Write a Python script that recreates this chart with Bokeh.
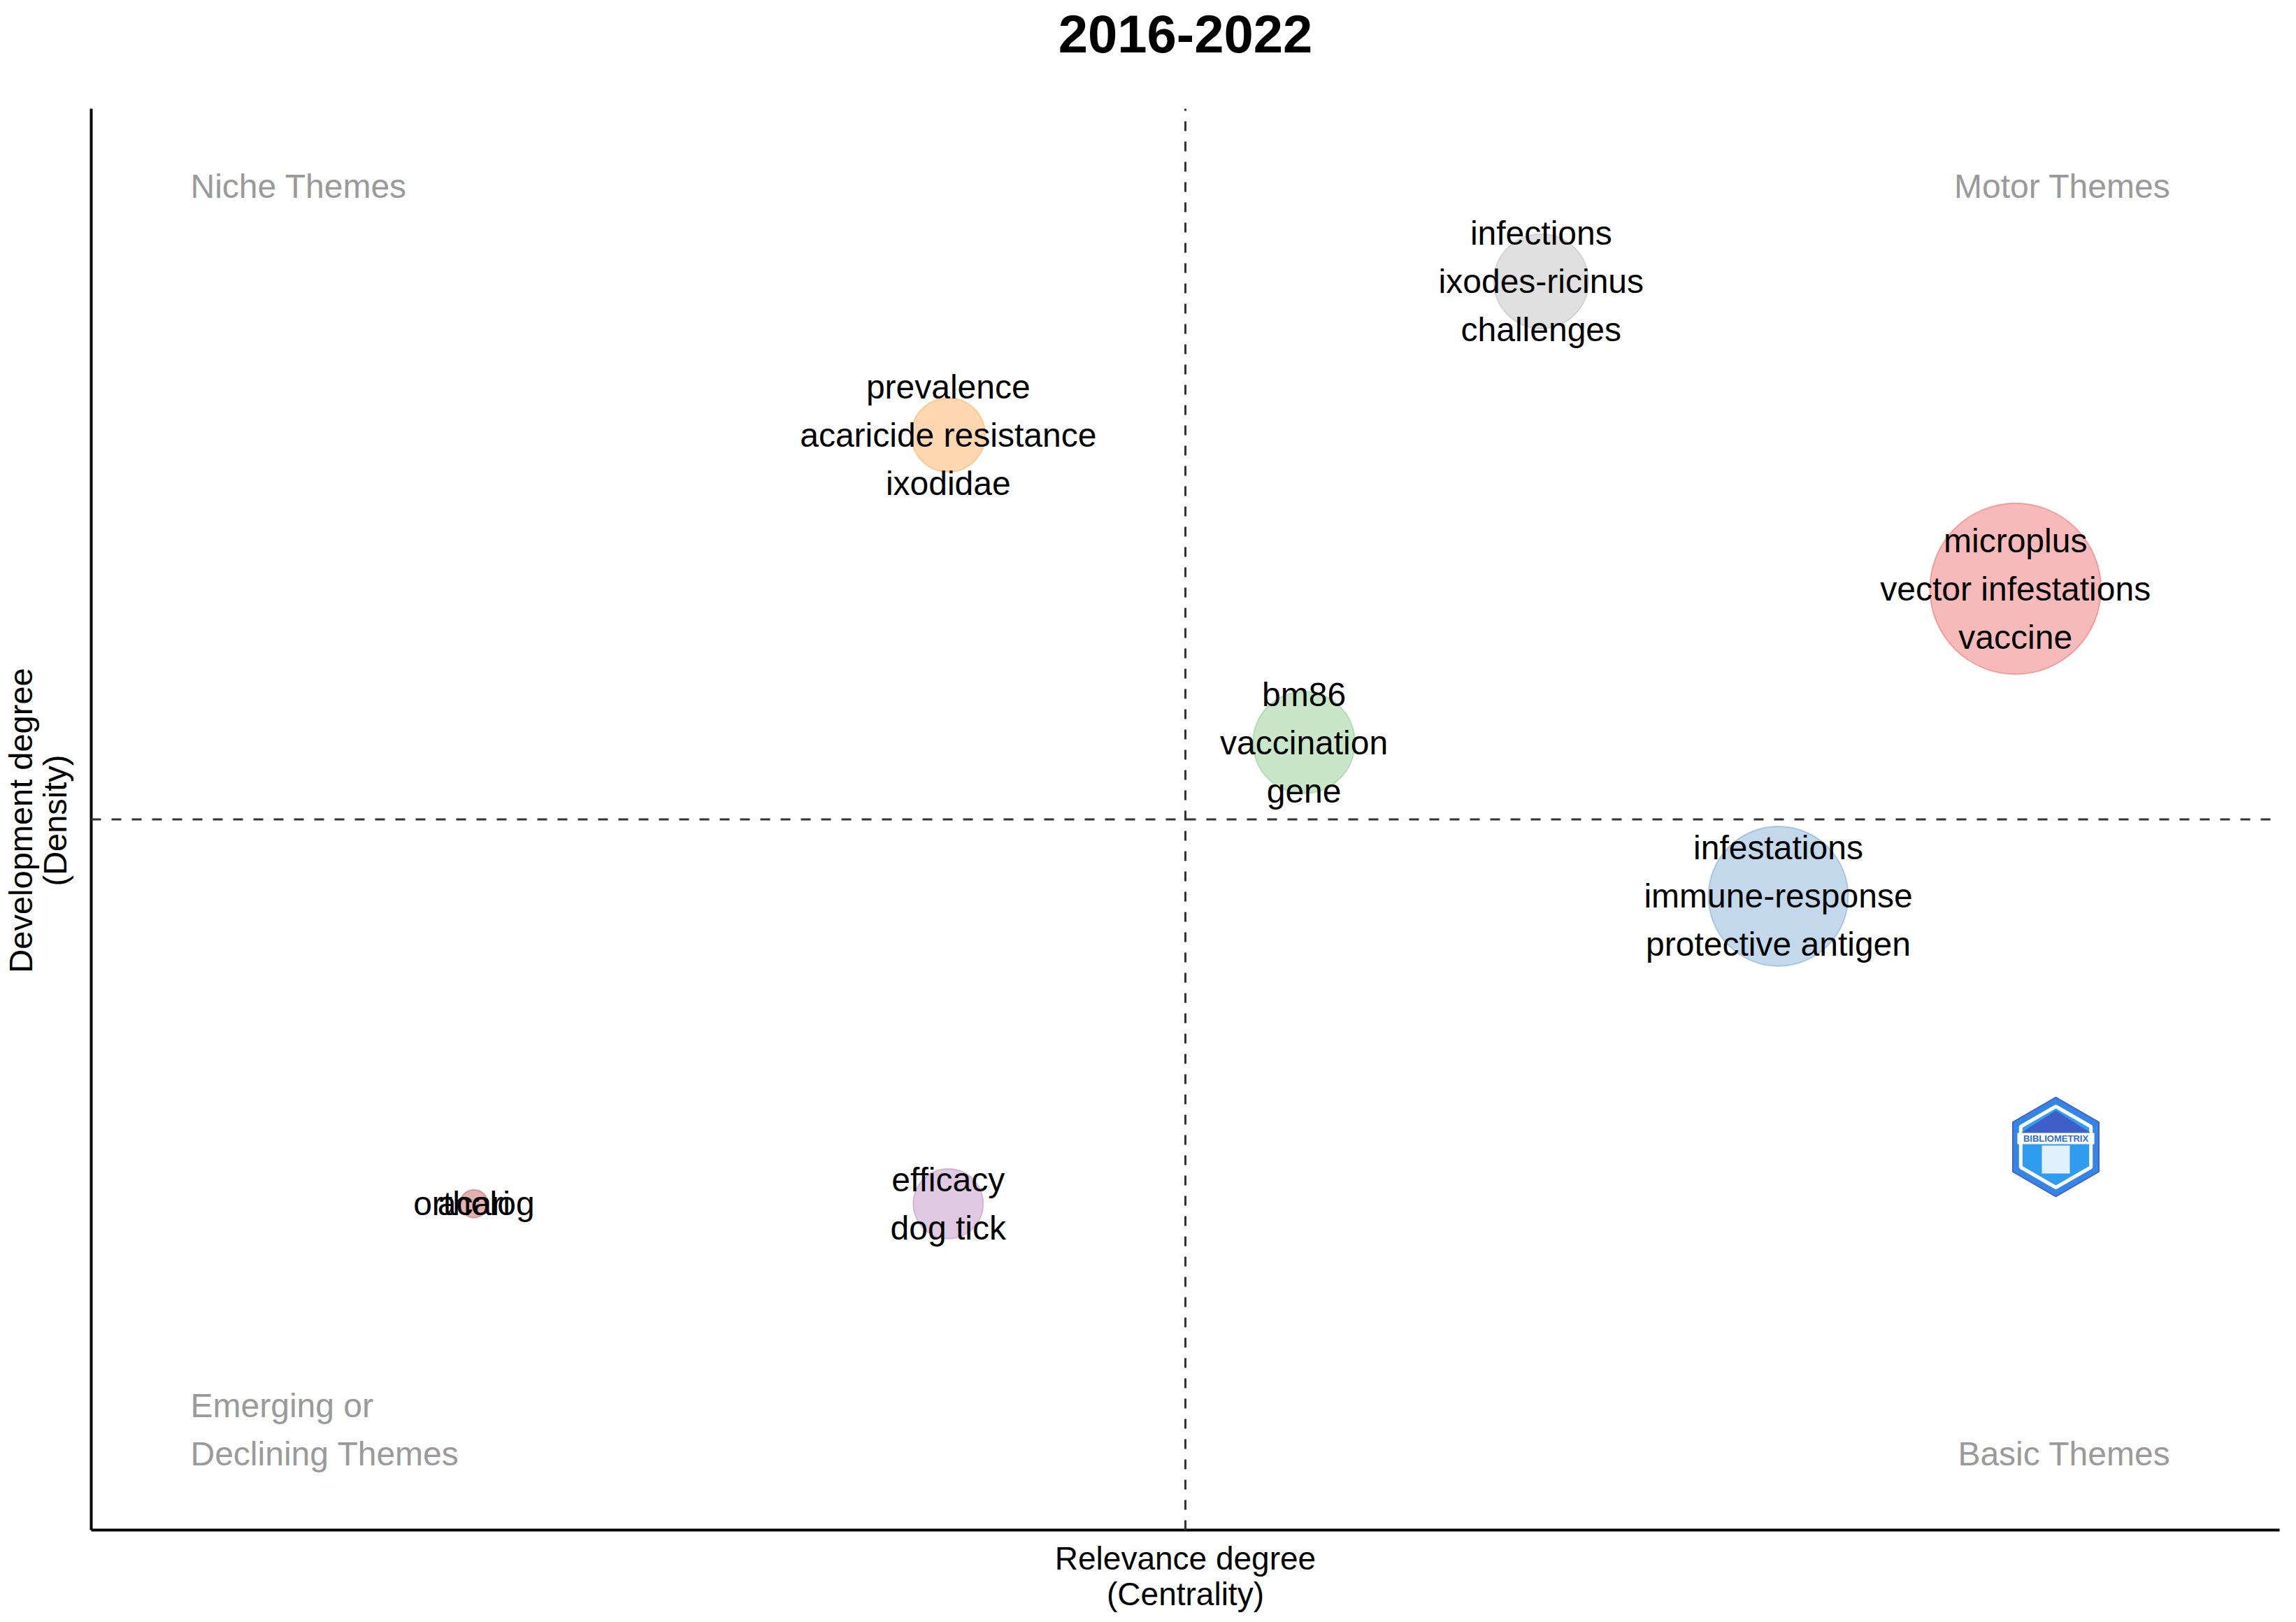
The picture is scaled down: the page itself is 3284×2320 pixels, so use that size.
import math
from bokeh.plotting import figure
from bokeh.models import Range1d, Label, ColumnDataSource
from bokeh.embed import file_html
from bokeh.resources import INLINE
from bokeh.core.properties import value

# ---------------- data ----------------
title_text = "2016-2022"
cluster_words = [
    ["microplus", "vector infestations", "vaccine"],
    ["infestations", "immune-response", "protective antigen"],
    ["infections", "ixodes-ricinus", "challenges"],
    ["bm86", "vaccination", "gene"],
    ["prevalence", "acaricide resistance", "ixodidae"],
    ["efficacy", "dog tick"],
    ["ortholog"],
    ["acari"],
]
centrality = [7.5, 6.5, 5.5, 4.5, 3.0, 3.0, 1.0, 1.0]
density = [5.0, 3.0, 7.0, 4.0, 6.0, 1.0, 1.0, 1.0]
freq = [150, 100, 46, 53, 28, 25, 4, 4]
cluster_colors = ["#E41A1C", "#377EB8", "#999999", "#4DAF4A",
                  "#FF7F00", "#984EA3", "#F781BF", "#A65628"]
quadrant_names = {
    "top_left": ["Niche Themes"],
    "top_right": ["Motor Themes"],
    "bottom_left": ["Emerging or", "Declining Themes"],
    "bottom_right": ["Basic Themes"],
}
x_title = ["Relevance degree", "(Centrality)"]
y_title = ["Development degree", "(Density)"]

FONT = "Liberation Sans"

# ---------------- layout ----------------
W, H = 3268, 2312
OFF = 2                      # effective offset of canvas in reference pixels
PL, PT, PW, PH = 132, 157, 3130, 2033   # panel box in reference pixels

x_mid = sum(centrality) / len(centrality)
y_mid = sum(density) / len(density)
x_half = 4.6137
y_half = 4.6225
x0, x1 = x_mid - x_half, x_mid + x_half
y0, y1 = y_mid - y_half, y_mid + y_half

def px_x(px):  # reference-pixel -> data x
    return x0 + (px - PL) * (x1 - x0) / PW

def px_y(py):  # reference-pixel -> data y
    return y1 - (py - PT) * (y1 - y0) / PH

y_per_px = (y1 - y0) / PH
x_per_px = (x1 - x0) / PW

p = figure(width=W, height=H, min_border=0,
           x_range=Range1d(px_x(OFF), px_x(OFF + W)),
           y_range=Range1d(px_y(OFF + H), px_y(OFF)),
           output_backend="svg", toolbar_location=None,
           background_fill_color="white", border_fill_color="white")
p.outline_line_color = None
p.grid.visible = False
p.axis.visible = False

# axis lines (left and bottom)
p.segment(x0=[x0, x0], y0=[y0, y0], x1=[x1, x0], y1=[y0, y1],
          line_color="black", line_width=4)

# mean lines
p.segment(x0=[x_mid, x0], y0=[y0, y_mid], x1=[x_mid, x1], y1=[y1, y_mid],
          line_color="#333333", line_width=3, line_dash="14 15")

# bubbles
sizes = [20 * math.sqrt(f) for f in freq]
src = ColumnDataSource(dict(x=centrality, y=density, size=sizes, color=cluster_colors))
p.scatter(x="x", y="y", size="size", source=src, fill_color="color", fill_alpha=0.3,
          line_color="color", line_alpha=0.3, line_width=2)

# cluster labels
line_step = 69 * y_per_px
lx, ly, lt = [], [], []
for words, cx, cy in zip(cluster_words, centrality, density):
    n = len(words)
    for k, w in enumerate(words):
        lx.append(cx)
        ly.append(cy - (k - (n - 1) / 2) * line_step)
        lt.append(w)
p.text(x="x", y="y", text="text", source=ColumnDataSource(dict(x=lx, y=ly, text=lt)),
       text_font=value(FONT), text_font_size=value("48px"), text_align="center",
       text_baseline="middle", text_color="black")

# labels
GREY = "#9a9a9a"
def lab(x, y, t, align="left", color=GREY, size="48px", style="normal", angle=0.0):
    p.add_layout(Label(x=x, y=y, text=t, text_font=FONT, text_font_size=size,
                       text_align=align, text_baseline="middle", text_color=color,
                       text_font_style=style, angle=angle))

lab(px_x(274), px_y(268), quadrant_names["top_left"][0], "left")
lab(px_x(3106), px_y(268), quadrant_names["top_right"][0], "right")
lab(px_x(274), px_y(2012), quadrant_names["bottom_left"][0], "left")
lab(px_x(274), px_y(2081), quadrant_names["bottom_left"][1], "left")
lab(px_x(3106), px_y(2081), quadrant_names["bottom_right"][0], "right")

# title and axis titles
lab(x_mid, px_y(50), title_text, "center", "black", "76px", "bold")
lab(x_mid, px_y(2230), x_title[0], "center", "black", "46px")
lab(x_mid, px_y(2281), x_title[1], "center", "black", "46px")
lab(px_x(31), px_y(1175), y_title[0], "center", "black", "47px", angle=math.pi / 2)
lab(px_x(80), px_y(1175), y_title[1], "center", "black", "47px", angle=math.pi / 2)

# bibliometrix logo (hexagon badge)
lcx, lcy = 2942, 1642
def hexagon(r):
    xs, ys = [], []
    for i in range(6):
        a = math.radians(90 + 60 * i)
        xs.append(px_x(lcx + r * math.cos(a)))
        ys.append(px_y(lcy - r * math.sin(a)))
    return xs, ys
hx, hy = hexagon(71)
p.patch(hx, hy, fill_color="#3585e4", line_color="#3f63cc", line_width=2)
hx2, hy2 = hexagon(58)
p.patch(hx2, hy2, fill_color="#2f9cf0", line_color="white", line_width=5)
tx = [px_x(lcx - 50), px_x(lcx), px_x(lcx + 50)]
ty = [px_y(lcy - 20), px_y(lcy - 52), px_y(lcy - 20)]
p.patch(tx, ty, fill_color="#3f5fc8", line_color=None)
p.rect(x=[px_x(lcx)], y=[px_y(lcy - 12)], width=110 * x_per_px,
       height=16 * y_per_px, fill_color="white", line_color=None)
p.text(x=[px_x(lcx)], y=[px_y(lcy - 12)], text=["BIBLIOMETRIX"],
       text_font=value(FONT), text_font_size=value("13px"), text_font_style="bold",
       text_align="center", text_baseline="middle", text_color="#2f6fd6")
p.rect(x=[px_x(lcx)], y=[px_y(lcy + 18)], width=40 * x_per_px,
       height=40 * y_per_px, fill_color="white", line_color=None, fill_alpha=0.85)

open("out.html", "w").write(file_html(p, INLINE))
